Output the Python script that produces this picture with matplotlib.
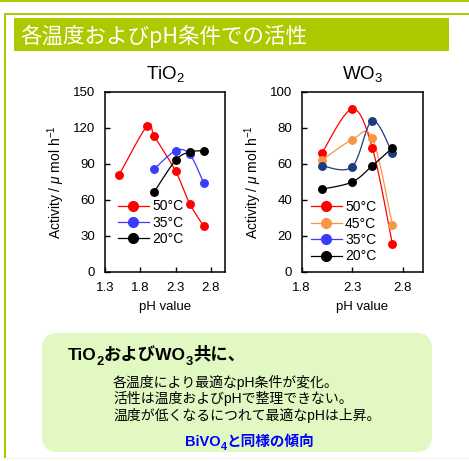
import numpy as np
import matplotlib
matplotlib.use("Agg")
import matplotlib.pyplot as plt
from matplotlib.patches import FancyBboxPatch, Rectangle
from matplotlib.lines import Line2D

plt.rcParams['font.family'] = ['Liberation Sans', 'Noto Sans CJK JP', 'DejaVu Sans']
plt.rcParams['mathtext.fontset'] = 'custom'
plt.rcParams['mathtext.rm'] = 'Liberation Sans'
plt.rcParams['mathtext.it'] = 'Liberation Sans:italic'
plt.rcParams['mathtext.bf'] = 'Liberation Sans:bold'

# ---- data -------------------------------------------------------------
tio2_labels = ['50°C', '35°C', '20°C']
tio2_ph_50 = [1.5, 1.9, 2.0, 2.3, 2.5, 2.7]
tio2_act_50 = [81, 122, 113, 84, 57, 38]
tio2_ph_35 = [2.0, 2.3, 2.5, 2.7]
tio2_act_35 = [86, 101, 98, 74]
tio2_ph_20 = [2.0, 2.3, 2.5, 2.7]
tio2_act_20 = [67, 93, 100, 101]

wo3_labels = ['50°C', '45°C', '35°C', '20°C']
wo3_ph = [2.0, 2.3, 2.5, 2.7]
wo3_act_50 = [66, 90.5, 69, 15.5]
wo3_act_45 = [62, 73.5, 74.5, 26]
wo3_act_35 = [59, 58.5, 84, 66]
wo3_act_20 = [46, 50, 59, 69]

tio2_xticks = [1.3, 1.8, 2.3, 2.8]
tio2_yticks = [0, 30, 60, 90, 120, 150]
wo3_xticks = [1.8, 2.3, 2.8]
wo3_yticks = [0, 20, 40, 60, 80, 100]

banner_title = '各温度およびpH条件での活性'
summary_lines = ['各温度により最適なpH条件が変化。',
                 '活性は温度およびpHで整理できない。',
                 '温度が低くなるにつれて最適なpHは上昇。']

# ---- figure -----------------------------------------------------------
W, H = 469, 461
fig = plt.figure(figsize=(W / 100, H / 100), dpi=100)
fig.patch.set_facecolor('white')

GREEN = '#adc900'

# page decoration layer in pixel coordinates
bg = fig.add_axes([0, 0, 1, 1])
bg.set_xlim(0, W)
bg.set_ylim(H, 0)
bg.axis('off')
bg.add_patch(Rectangle((0, 0), W, 2, color=GREEN, lw=0))
bg.add_patch(Rectangle((4, 13), W, 2, color=GREEN, lw=0))
bg.add_patch(Rectangle((4, 13), 2, 446, color=GREEN, lw=0))
bg.add_patch(Rectangle((4, 458), W, 1.2, color='#f2f4e6', lw=0))
bg.add_patch(Rectangle((14, 18), 435, 33, color=GREEN, lw=0))
bg.text(20.5, 43, banner_title, color='white', fontsize=15.5,
        family=['Noto Sans CJK JP', 'DejaVu Sans'], va='baseline', ha='left')

bg.add_patch(FancyBboxPatch((42, 333), 390, 119,
                            boxstyle='round,pad=0,rounding_size=16',
                            fc='#e2f8c2', ec='none'))

renderer = fig.canvas.get_renderer()


def chain_text(ax, x, y, parts, size, sub_scale=0.75, **kw):
    """Draw text pieces one after another; parts are (text, is_subscript)."""
    for s, sub in parts:
        fs = size * sub_scale if sub else size
        yy = y + (size * 0.3 * 100 / 72 if sub else 0)
        t = ax.text(x, yy, s, fontsize=fs, va='baseline', ha='left', **kw)
        bb = t.get_window_extent(renderer=renderer)
        x += bb.width
    return x


chain_text(bg, 68, 359.5,
           [('TiO', False), ('2', True), ('およびWO', False), ('3', True), ('共に、', False)],
           12.5, fontweight='bold', color='black')
for i, line in enumerate(summary_lines):
    bg.text(113, 387 + i * 16.3, line, fontsize=10, va='baseline', ha='left', color='black')
chain_text(bg, 185, 445.5,
           [('BiVO', False), ('4', True), ('と同様の傾向', False)],
           10.5, fontweight='bold', color='#0000ff')


# ---- charts -----------------------------------------------------------
def smooth_xy(ax, x, y, n=30):
    x = np.asarray(x, float)
    y = np.asarray(y, float)
    pos = ax.get_position()
    x0, x1 = ax.get_xlim()
    y0, y1 = ax.get_ylim()
    sx = pos.width * W / (x1 - x0)
    sy = pos.height * H / (y1 - y0)
    P = np.column_stack([x * sx, y * sy])
    Pe = np.vstack([P[0], P, P[-1]])
    t = np.linspace(0, 1, n)[:, None]
    segs = []
    for i in range(len(P) - 1):
        p0, p1, p2, p3 = Pe[i:i + 4]
        c1 = p1 + (p2 - p0) / 6
        c2 = p2 - (p3 - p1) / 6
        seg = ((1 - t) ** 3) * p1 + 3 * (1 - t) ** 2 * t * c1 + 3 * (1 - t) * t ** 2 * c2 + t ** 3 * p2
        segs.append(seg if i == 0 else seg[1:])
    S = np.vstack(segs)
    return S[:, 0] / sx, S[:, 1] / sy


def setup(ax, xlim, ylim, xticks, yticks, title):
    ax.set_xlim(*xlim)
    ax.set_ylim(*ylim)
    ax.set_xticks(xticks)
    ax.set_yticks(yticks)
    ax.set_xticklabels([f'{v:.1f}' for v in xticks])
    ax.set_yticklabels([f'{v:d}' for v in yticks])
    ax.tick_params(direction='in', length=3.5, width=1, labelsize=9.5, pad=7,
                   top=False, right=False, colors='black')
    for sp in ax.spines.values():
        sp.set_linewidth(1.1)
        sp.set_color('black')
    ax.set_ylabel(r'Activity / $\mu$ mol h$^{-1}$', fontsize=10, labelpad=4)
    ax.set_xlabel('pH value', fontsize=9.5, labelpad=5)
    ax.set_title(title, fontsize=13.5, pad=9)


def draw_series(ax, x, y, color):
    sx, sy = smooth_xy(ax, x, y)
    ax.plot(sx, sy, color=color, lw=0.9, zorder=2)
    ax.plot(x, y, 'o', color=color, ms=5.4, zorder=3, clip_on=False)


def add_legend(ax, labels, colors, anchor):
    handles = [Line2D([], [], color=c, lw=0.9, marker='o', ms=7) for c in colors]
    ax.legend(handles, labels, loc='center left', bbox_to_anchor=anchor,
              frameon=False, fontsize=10, handlelength=2.2, handletextpad=0.25,
              labelspacing=0.17, borderpad=0, borderaxespad=0)


ax1 = fig.add_axes([105 / W, 1 - 272 / H, 120 / W, 180 / H])
setup(ax1, (1.3, 3.0), (0, 150), tio2_xticks, tio2_yticks, r'TiO$_2$')
tio2_colors = ['#ff0000', '#3b3bff', '#000000']
draw_series(ax1, tio2_ph_50, tio2_act_50, tio2_colors[0])
draw_series(ax1, tio2_ph_35, tio2_act_35, tio2_colors[1])
draw_series(ax1, tio2_ph_20, tio2_act_20, tio2_colors[2])
add_legend(ax1, tio2_labels, tio2_colors, (0.108, 0.273))

ax2 = fig.add_axes([301.7 / W, 1 - 272 / H, 121 / W, 180 / H])
setup(ax2, (1.8, 3.0), (0, 100), wo3_xticks, wo3_yticks, r'WO$_3$')
wo3_colors = ['#ff0000', '#f79646', '#1f3a80', '#000000']
wo3_legend_colors = ['#ff0000', '#f79646', '#3b3bff', '#000000']
draw_series(ax2, wo3_ph, wo3_act_50, wo3_colors[0])
draw_series(ax2, wo3_ph, wo3_act_45, wo3_colors[1])
draw_series(ax2, wo3_ph, wo3_act_35, wo3_colors[2])
draw_series(ax2, wo3_ph, wo3_act_20, wo3_colors[3])
add_legend(ax2, wo3_labels, wo3_legend_colors, (0.077, 0.223))

fig.savefig('out.png', dpi=100, facecolor='white')
